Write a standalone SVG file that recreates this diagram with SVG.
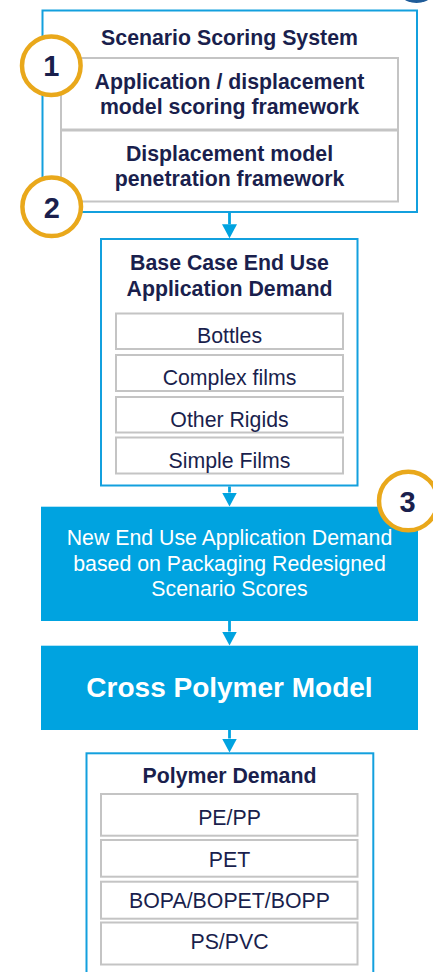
<svg xmlns="http://www.w3.org/2000/svg" width="433" height="972" viewBox="0 0 433 972">
  <style>
    .frame { fill: #ffffff; stroke: #13a0de; stroke-width: 2; }
    .cell { fill: #ffffff; stroke: #c4c4c4; stroke-width: 2; }
    .solid { fill: #00a3e0; }
    .t { font-family: "Liberation Sans", Arial, sans-serif; font-size: 21.3px; text-anchor: middle; fill: #1a1f4d; }
    .b { font-weight: bold; }
    .w { fill: #ffffff; }
    .big { font-size: 28px; font-weight: bold; }
    .badge { fill: #ffffff; stroke: #e9a81b; stroke-width: 4.5; }
    .num { font-family: "Liberation Sans", Arial, sans-serif; font-size: 29px; font-weight: bold; text-anchor: middle; fill: #1a1f4d; }
    .link { stroke: #00a3e0; stroke-width: 2.8; fill: none; }
  </style>
  <defs>
    <marker id="arrow" markerUnits="userSpaceOnUse" markerWidth="14" markerHeight="15" viewBox="0 0 14 15" refX="0" refY="7.5" orient="auto">
      <path d="M0,0 L14,7.5 L0,15 z" fill="#00a3e0"/>
    </marker>
  </defs>

  <!-- corner of a dark badge peeking in at the top -->
  <circle cx="416.5" cy="-20.5" r="23.5" fill="#1f5c99"/>

  <!-- connectors -->
  <g id="connectors">
    <line class="link" x1="229.5" y1="213" x2="229.5" y2="224.3" marker-end="url(#arrow)"/>
    <line class="link" x1="229.5" y1="486.5" x2="229.5" y2="492.5" marker-end="url(#arrow)"/>
    <line class="link" x1="229.5" y1="621" x2="229.5" y2="631.5" marker-end="url(#arrow)"/>
    <line class="link" x1="229.5" y1="730" x2="229.5" y2="738.5" marker-end="url(#arrow)"/>
  </g>

  <!-- Scenario Scoring System -->
  <g id="scenario-scoring">
    <rect class="frame" x="42.5" y="10.5" width="374.5" height="201.5"/>
    <text class="t b" x="229.5" y="45">Scenario Scoring System</text>
    <rect class="cell" x="61" y="58" width="337" height="71.5"/>
    <text class="t b" x="229.5" y="89.3">Application / displacement</text>
    <text class="t b" x="229.5" y="114">model scoring framework</text>
    <rect class="cell" x="61" y="130.5" width="337" height="71"/>
    <text class="t b" x="229.5" y="160.7">Displacement model</text>
    <text class="t b" x="229.5" y="185.5">penetration framework</text>
  </g>

  <!-- Base Case End Use Application Demand -->
  <g id="base-case">
    <rect class="frame" x="101" y="239" width="256.5" height="246.5"/>
    <text class="t b" x="229.5" y="270">Base Case End Use</text>
    <text class="t b" x="229.5" y="295.7">Application Demand</text>
    <rect class="cell" x="116" y="313.5" width="227" height="35.5"/>
    <text class="t" x="229.5" y="343.3">Bottles</text>
    <rect class="cell" x="116" y="355" width="227" height="36"/>
    <text class="t" x="229.5" y="385">Complex films</text>
    <rect class="cell" x="116" y="397" width="227" height="35.5"/>
    <text class="t" x="229.5" y="427.3">Other Rigids</text>
    <rect class="cell" x="116" y="437.5" width="227" height="36"/>
    <text class="t" x="229.5" y="468.3">Simple Films</text>
  </g>

  <!-- New End Use Application Demand -->
  <g id="new-demand">
    <rect class="solid" x="41" y="506.7" width="377" height="114.3"/>
    <text class="t w" x="229.5" y="545">New End Use Application Demand</text>
    <text class="t w" x="229.5" y="570.7">based on Packaging Redesigned</text>
    <text class="t w" x="229.5" y="595.7">Scenario Scores</text>
  </g>

  <!-- Cross Polymer Model -->
  <g id="cross-polymer">
    <rect class="solid" x="41" y="645.7" width="377" height="84.3"/>
    <text class="t w big" x="229.5" y="696.7">Cross Polymer Model</text>
  </g>

  <!-- Polymer Demand -->
  <g id="polymer-demand">
    <rect class="frame" x="86.5" y="753.3" width="286.8" height="225"/>
    <text class="t b" x="229.5" y="783.3">Polymer Demand</text>
    <rect class="cell" x="101" y="794" width="256.5" height="41.7"/>
    <text class="t" x="229.5" y="825">PE/PP</text>
    <rect class="cell" x="101" y="840" width="256.5" height="36.7"/>
    <text class="t" x="229.5" y="866.7">PET</text>
    <rect class="cell" x="101" y="881.7" width="256.5" height="37"/>
    <text class="t" x="229.5" y="908.3">BOPA/BOPET/BOPP</text>
    <rect class="cell" x="101" y="922.5" width="256.5" height="42"/>
    <text class="t" x="229.5" y="949.3">PS/PVC</text>
  </g>

  <!-- numbered badges -->
  <g id="badge-1">
    <circle class="badge" cx="51.3" cy="65.7" r="29.3"/>
    <text class="num" x="51.3" y="76.2">1</text>
  </g>
  <g id="badge-2">
    <circle class="badge" cx="51.7" cy="206.8" r="29.3"/>
    <text class="num" x="51.7" y="217.8">2</text>
  </g>
  <g id="badge-3">
    <circle class="badge" cx="408.3" cy="501" r="29.3"/>
    <text class="num" x="407.5" y="511.7">3</text>
  </g>
</svg>
